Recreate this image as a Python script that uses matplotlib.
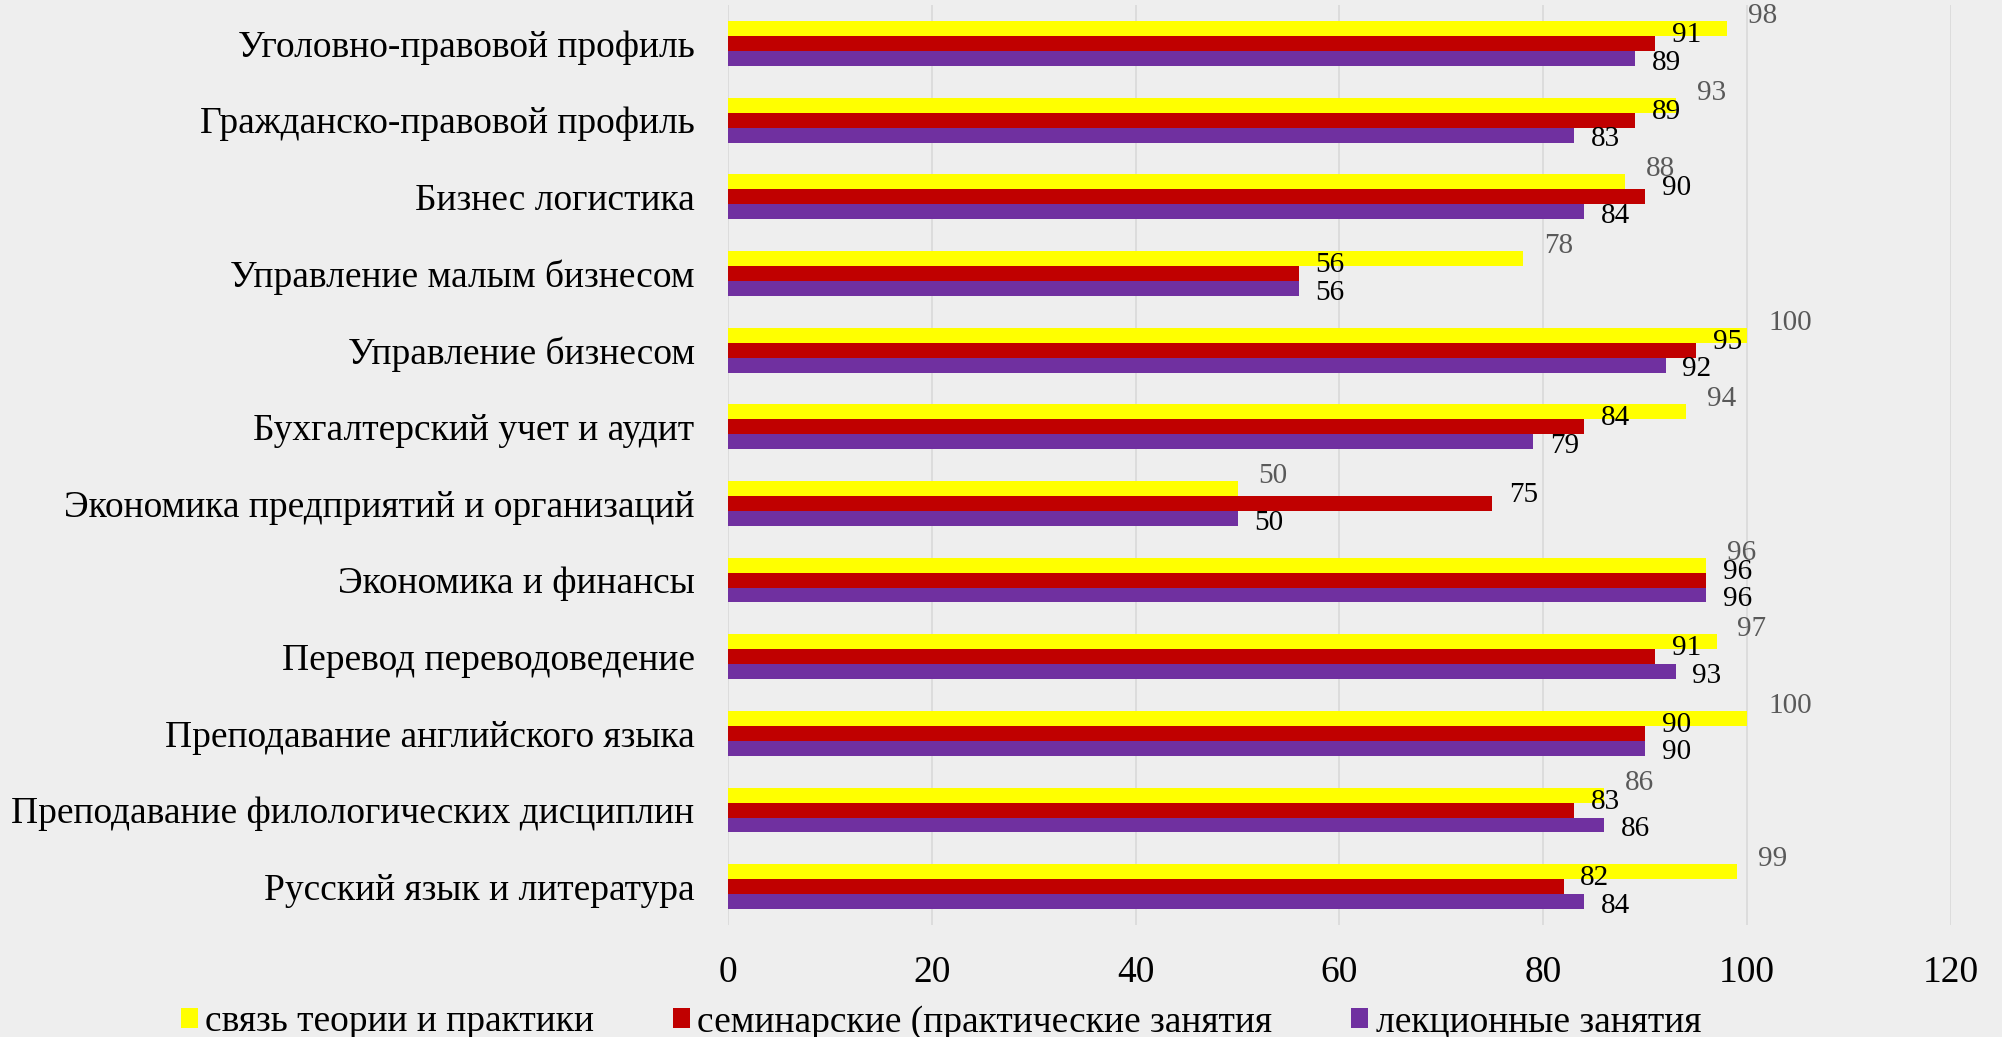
import matplotlib
matplotlib.use("Agg")
import matplotlib.pyplot as plt
from matplotlib.patches import Patch
import numpy as np

# data
categories = ['Уголовно-правовой профиль', 'Гражданско-правовой профиль', 'Бизнес логистика',
              'Управление малым бизнесом', 'Управление бизнесом', 'Бухгалтерский учет и аудит',
              'Экономика предприятий и организаций', 'Экономика и финансы', 'Перевод переводоведение',
              'Преподавание английского языка', 'Преподавание филологических дисциплин',
              'Русский язык и литература']
theory_practice = [98, 93, 88, 78, 100, 94, 50, 96, 97, 100, 86, 99]
seminars = [91, 89, 90, 56, 95, 84, 75, 96, 91, 90, 83, 82]
lectures = [89, 83, 84, 56, 92, 79, 50, 96, 93, 90, 86, 84]
series_names = ['связь теории и практики', 'семинарские (практические занятия', 'лекционные занятия']
xticks = [0, 20, 40, 60, 80, 100, 120]

plt.rcParams['font.family'] = ['Liberation Serif', 'DejaVu Serif']

bg = '#EEEEEE'
colors = ['#FFFF00', '#C00000', '#7030A0']
label_colors = ['#595959', 'black', 'black']
# label offsets in points (dx, dy) per series
offs = [(15, 9), (12, 6), (12, -3)]

fig = plt.figure(figsize=(20.02, 10.37), dpi=100, facecolor=bg)
ax = fig.add_axes([0.3636, 0.108, 0.6109, 0.887])
ax.set_facecolor(bg)

y = np.arange(len(categories))
h = 0.195
allvals = [theory_practice, seminars, lectures]
for k, vals in enumerate(allvals):
    pos = y + (k - 1) * h
    ax.barh(pos, vals, height=h, color=colors[k], edgecolor='none', zorder=3)
    for p, v in zip(pos, vals):
        ax.annotate(str(v), (v, p), xytext=offs[k], textcoords='offset points',
                    ha='left', va='center', fontsize=21, color=label_colors[k], zorder=5)

ax.set_xlim(0, 120)
ax.set_ylim(len(categories) - 0.5, -0.5)
ax.set_xticks(xticks)
ax.set_yticks(y)
ax.set_yticklabels(categories, fontsize=27)
ax.tick_params(axis='x', labelsize=27, length=0, pad=22)
ax.tick_params(axis='y', length=0, pad=24)
ax.grid(axis='x', color='#D9D9D9', linewidth=1.2, zorder=0)
for s in ax.spines.values():
    s.set_visible(False)

handles = [Patch(facecolor=c, edgecolor='none') for c in colors]
fig.legend(handles, series_names, loc='lower center', bbox_to_anchor=(0.47, -0.035), ncol=3,
           frameon=False, fontsize=27, handlelength=0.45, handleheight=0.45,
           handletextpad=0.2, columnspacing=2.1)

fig.savefig('out.png', dpi=100, facecolor=bg)
